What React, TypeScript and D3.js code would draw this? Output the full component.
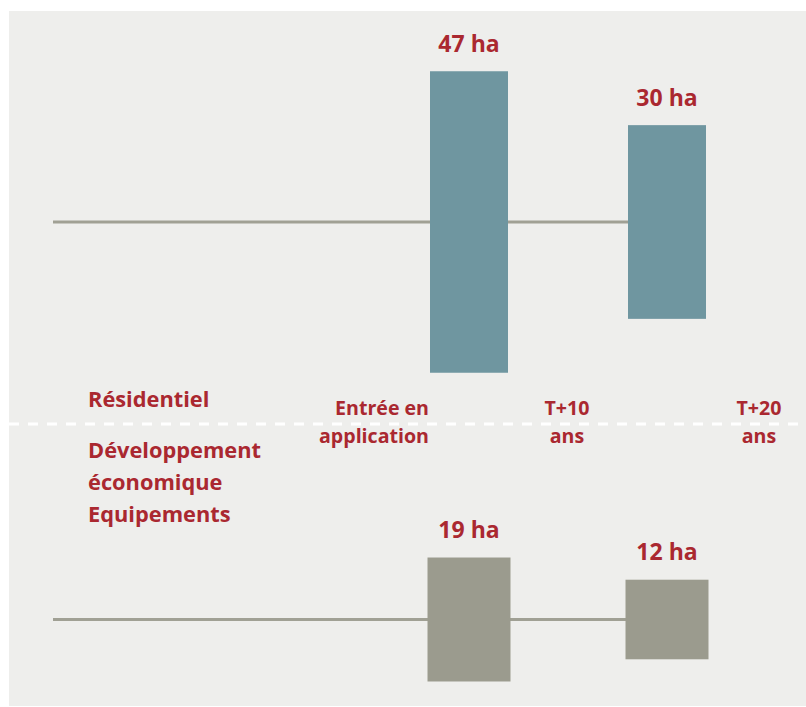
import React from "react";
import * as d3 from "d3";

const rows = ["Résidentiel", "Développement économique Equipements"];
const rowLabelLines = [["Résidentiel"], ["Développement", "économique", "Equipements"]];
const periods = [5, 15];
const residentielValues = [47, 30];
const economiqueValues = [19, 12];
const tickYears = [0, 10, 20];
const tickLabels = [["Entrée en", "application"], ["T+10", "ans"], ["T+20", "ans"]];

const W = 806;
const H = 707;
const RED = "#aa2830";
const FONT = "'Open Sans', sans-serif";

export default function App() {
  const x = d3.scaleLinear().domain([0, 20]).range([370, 766]);
  const h = d3.scaleLinear().domain([0, 47]).range([3.5, 301.5]);
  const rowY = [222, 619.5];
  const rowColors = ["#6f96a0", "#9b9b8e"];
  const barW = [78, 83];
  const series = [residentielValues, economiqueValues];
  const lineStart = 53;

  return (
    <svg width={W} height={H} style={{ position: "absolute", left: 0, top: 0 }} fontFamily={FONT}>
      <rect x={9} y={11} width={W - 9} height={695} fill="#eeeeec" />
      {series.map((vals, r) => {
        const cy = rowY[r];
        const lastX = x(periods[periods.length - 1]);
        return (
          <g key={rows[r]}>
            <line x1={lineStart} x2={lastX} y1={cy} y2={cy} stroke="#a0a094" strokeWidth={3} />
            {vals.map((v, i) => {
              const bh = h(v);
              const cx = x(periods[i]);
              return (
                <g key={i}>
                  <rect x={cx - barW[r] / 2} y={cy - bh / 2} width={barW[r]} height={bh} fill={rowColors[r]} />
                  <text x={cx} y={cy - bh / 2 - 19.5} textAnchor="middle" fill={RED} fontSize={23} fontWeight={700}>
                    {v} ha
                  </text>
                </g>
              );
            })}
          </g>
        );
      })}
      <line x1={9} x2={W} y1={424} y2={424} stroke="#ffffff" strokeWidth={3} strokeDasharray="10,9" />
      {rowLabelLines[0].map((t, i) => (
        <text key={t} x={88} y={407 + i * 32} fill={RED} fontSize={21.8} fontWeight={700}>{t}</text>
      ))}
      {rowLabelLines[1].map((t, i) => (
        <text key={t} x={88} y={458 + i * 32} fill={RED} fontSize={21.8} fontWeight={700}>{t}</text>
      ))}
      {tickYears.map((yr, i) => {
        const first = i === 0;
        const tx = first ? x(yr) + 59 : x(yr) - (i === 2 ? 7 : 1);
        return (
          <g key={yr}>
            {tickLabels[i].map((t, j) => (
              <text key={t} x={tx} y={415 + j * 28} textAnchor={first ? "end" : "middle"} fill={RED} fontSize={19.6} fontWeight={700}>
                {t}
              </text>
            ))}
          </g>
        );
      })}
    </svg>
  );
}
